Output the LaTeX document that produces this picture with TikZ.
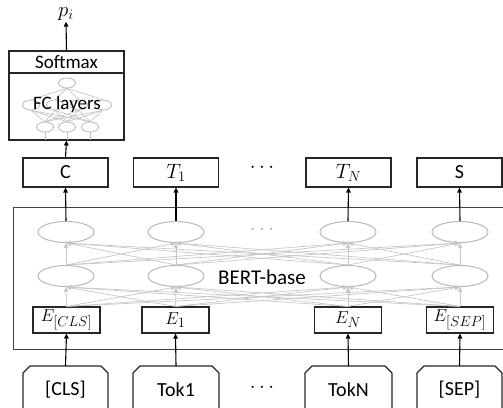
\documentclass[tikz,border=0pt]{standalone}
\usepackage{fontspec}
\setmainfont{Carlito}
\usetikzlibrary{arrows.meta,shapes.geometric}
\begin{document}
\begin{tikzpicture}[x=1pt,y=-1pt,
  lbl/.style={font=\fontsize{20}{22}\selectfont},
  box/.style={draw=black!85,line width=1.1pt,minimum width=85pt,minimum height=29pt,inner sep=0pt,lbl},
  ebox/.style={draw=black!85,line width=1.1pt,minimum width=67pt,minimum height=26pt,inner sep=0pt,font=\fontsize{19}{21}\selectfont},
  neuron/.style={ellipse,draw=black!28,line width=1pt,minimum width=56pt,minimum height=21pt,inner sep=0pt},
  mini/.style={ellipse,draw=black!28,line width=0.8pt,minimum width=17pt,minimum height=10pt,inner sep=0pt},
  tokn/.style={minimum width=85pt,minimum height=48pt,inner sep=0pt,lbl},
  tokline/.style={draw=black!85,line width=1.1pt,line join=round},
  arr/.style={draw=black,line width=1.1pt,-{Triangle[length=5pt,width=4.5pt]}},
  mesh/.style={draw=black!22,line width=0.7pt,-{Triangle[length=5pt,width=4.5pt]}},
  minil/.style={draw=black!25,line width=0.6pt},
  dots/.style={lbl}
]
\useasboundingbox (0,0) rectangle (503,407);
\clip (0,0) rectangle (503,407);

% BERT box
\node[draw=black!75,line width=1pt,minimum width=495pt,minimum height=142pt,anchor=north west,inner sep=0pt] (bert) at (13,207) {};

% top output boxes
\node[box] (c) at (65.5,172.5) {C};
\node[box,font=\fontsize{22}{24}\selectfont] (t1) at (176,172.5) {$T_1$};
\node[box,font=\fontsize{22}{24}\selectfont] (tn) at (348.5,172.5) {$T_N$};
\node[box] (s) at (459.5,172.5) {S};
\node[dots] (d1) at (262,168) {$\cdots$};

% neurons
\foreach \n/\x in {1/66,2/176,3/348,4/460}{
  \node[neuron] (u\n) at (\x,232) {};
  \node[neuron] (m\n) at (\x,276) {};
}
\node[text=black!35,lbl] (d2) at (262,230) {$\cdots$};
\node[font=\fontsize{21}{23}\selectfont] (bl) at (262,277) {BERT-base};

% embedding boxes
\node[ebox] (e1) at (66.5,320) {$E_{[CLS]}$};
\node[ebox] (e2) at (175.5,320) {$E_1$};
\node[ebox] (e3) at (348,320) {$E_N$};
\node[ebox] (e4) at (460,320) {$E_{[SEP]}$};

% mesh
\foreach \i in {1,...,4}{
  \foreach \j in {1,...,4}{
    \draw[mesh] (e\i.north) -- (m\j.south);
    \draw[mesh] (m\i.north) -- (u\j.south);
  }
}

% tokens
\foreach \n/\a/\b/\t in {1/23/108/{[CLS]},2/133/219/{Tok1},3/305/392/{TokN},4/417/502/{[SEP]}}{
  \draw[tokline] (\a,412) -- (\a,373) -- (\a+7,366) -- (\b-7,366) -- (\b,373) -- (\b,412);
  \node[tokn] (k\n) at ({(\a+\b)/2},390) {\t};
}
\node[dots] (d3) at (262,388) {$\cdots$};

% arrows
\foreach \n in {1,...,4}{
  \draw[arr] (k\n.north) -- (e\n.south);
}
\draw[arr] (u1.north) -- (c.south);
\draw[arr] (u2.north) -- (t1.south);
\draw[arr] (u3.north) -- (tn.south);
\draw[arr] (u4.north) -- (s.south);

% FC / softmax
\node[draw=black!85,line width=1.1pt,minimum width=115pt,minimum height=67pt,inner sep=0pt] (fc) at (66.5,106.5) {};
\node[draw=black!85,line width=1.1pt,minimum width=115pt,minimum height=22pt,inner sep=0pt,font=\fontsize{19}{21}\selectfont] (sm) at (66.5,62) {Softmax};
\node[mini] (f0) at (67,83) {};
\foreach \n/\x in {1/31,2/55,3/79,4/103}{ \node[mini] (g\n) at (\x,105) {}; }
\foreach \n/\x in {1/45,2/67,3/90}{ \node[mini] (h\n) at (\x,127) {}; }
\foreach \i in {1,...,4}{ \draw[minil] (g\i.north) -- (f0.south); }
\foreach \i in {1,...,3}{
  \foreach \j in {1,...,4}{ \draw[minil] (h\i.north) -- (g\j.south); }
  \draw[minil] (h\i.south) -- ++(0,8);
}
\node[font=\fontsize{19}{21}\selectfont] (fcl) at (67,104) {FC layers};
\draw[arr] (c.north) -- (fc.south);
\node[font=\fontsize{21}{23}\selectfont,inner sep=1pt] (p) at (66,14) {$p_i$};
\draw[arr] (sm.north) -- (p.south);
\end{tikzpicture}
\end{document}
